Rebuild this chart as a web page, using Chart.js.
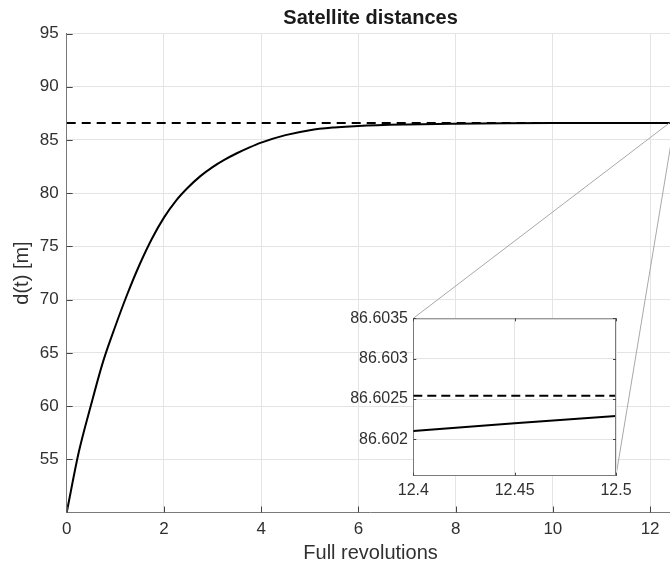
<!DOCTYPE html>
<html><head><meta charset="utf-8">
<script src="https://cdn.jsdelivr.net/npm/chart.js@4/dist/chart.umd.min.js"></script>
<style>
html,body{margin:0;padding:0;background:#fff;overflow:hidden;}
#wrap{position:relative;width:670px;height:570px;overflow:hidden;background:#fff;}
#main{position:absolute;left:0;top:0;}
#inset{position:absolute;left:330px;top:300px;}
</style></head><body>
<div id="wrap"><canvas id="main" width="690" height="570"></canvas><canvas id="inset" width="340" height="210"></canvas></div>
<script>
// ---- data ----
const chartTitle = 'Satellite distances';
const xTitle = 'Full revolutions';
const yTitle = 'd(t) [m]';
const revolutions = [0, 0.25, 0.5, 0.75, 1.0, 1.25, 1.5, 1.75, 2.0, 2.25, 2.5, 2.75, 3.0, 3.25, 3.5, 3.75, 4.0, 4.5, 5.0, 5.5, 6.0, 7.0, 8.0, 9.0, 10.0, 11.0, 12.0, 12.5];
const distances   = [50, 55.7, 60.1, 64.2, 67.5, 70.55, 73.3, 75.7, 77.7, 79.3, 80.55, 81.6, 82.45, 83.15, 83.75, 84.28, 84.75, 85.45, 85.92, 86.17, 86.32, 86.46, 86.53, 86.57, 86.59, 86.598, 86.6018, 86.6023];
const limitDistance = 86.602541;
const mainXRange = [0, 12.5];
const mainYRange = [50, 95];
const xTickValues = [0, 2, 4, 6, 8, 10, 12];
const xTickLabels = ['0', '2', '4', '6', '8', '10', '12'];
const yTickValues = [55, 60, 65, 70, 75, 80, 85, 90, 95];
const yTickLabels = ['55', '60', '65', '70', '75', '80', '85', '90', '95'];
const insetRevolutions = [12.4, 12.45, 12.5];
const insetDistances   = [86.602104, 86.6022, 86.602291];
const insetXRange = [12.4, 12.5];
const insetYRange = [86.60155, 86.6035];
const insetXTickValues = [12.4, 12.45, 12.5];
const insetXTickLabels = ['12.4', '12.45', '12.5'];
const insetYTickValues = [86.602, 86.6025, 86.603, 86.6035];
const insetYTickLabels = ['86.602', '86.6025', '86.603', '86.6035'];

// ---- styling ----
const FAMILY = "'Liberation Sans', Arial, Helvetica, sans-serif";
const TEXT = '#303030';
const GRID = '#e4e4e4';
const AXIS = '#7a7a7a';
const TICKC = '#444444';

function inwardTicks(chart, len, allSides) {
  const ctx = chart.ctx, ca = chart.chartArea, xs = chart.scales.x, ys = chart.scales.y;
  ctx.save();
  ctx.strokeStyle = TICKC; ctx.lineWidth = 1;
  ctx.beginPath();
  xs.ticks.forEach(t => {
    const px = Math.round(xs.getPixelForValue(t.value)) + 0.5;
    ctx.moveTo(px, ca.bottom); ctx.lineTo(px, ca.bottom - len);
    if (allSides) { ctx.moveTo(px, ca.top); ctx.lineTo(px, ca.top + len); }
  });
  ys.ticks.forEach(t => {
    const py = Math.round(ys.getPixelForValue(t.value)) + 0.5;
    ctx.moveTo(ca.left, py); ctx.lineTo(ca.left + len, py);
    if (allSides) { ctx.moveTo(ca.right, py); ctx.lineTo(ca.right - len, py); }
  });
  ctx.stroke();
  ctx.restore();
}

const mainDecor = {
  id: 'mainDecor',
  afterDatasetsDraw(chart) {
    const ic = window.insetChart;
    if (!ic) return;
    const ctx = chart.ctx, xs = chart.scales.x, ys = chart.scales.y;
    const cv = document.getElementById('inset');
    const ox = cv.offsetLeft, oy = cv.offsetTop, ica = ic.chartArea;
    ctx.save();
    ctx.strokeStyle = '#a8a8a8'; ctx.lineWidth = 1;
    ctx.beginPath();
    ctx.moveTo(ox + ica.left, oy + ica.top);
    ctx.lineTo(xs.getPixelForValue(insetXRange[0]), ys.getPixelForValue(insetYRange[1]));
    ctx.moveTo(ox + ica.right, oy + ica.bottom);
    ctx.lineTo(xs.getPixelForValue(insetXRange[1]), ys.getPixelForValue(insetYRange[0]));
    ctx.stroke();
    ctx.restore();
  },
  afterDraw(chart) {
    const ctx = chart.ctx, ca = chart.chartArea;
    inwardTicks(chart, 6, false);
    ctx.save();
    ctx.font = 'bold 20px ' + FAMILY;
    ctx.fillStyle = '#1a1a1a';
    ctx.textAlign = 'center'; ctx.textBaseline = 'middle';
    ctx.fillText(chartTitle, (ca.left + ca.right) / 2, 18.5);
    ctx.restore();
  }
};

const mainChart = new Chart(document.getElementById('main'), {
  type: 'line',
  data: {
    datasets: [
      { data: revolutions.map((x, i) => ({ x, y: distances[i] })), borderColor: '#000', borderWidth: 2, pointRadius: 0, cubicInterpolationMode: 'monotone', fill: false },
      { data: mainXRange.map(x => ({ x, y: limitDistance })), borderColor: '#000', borderWidth: 2, borderDash: [9, 6], pointRadius: 0, fill: false }
    ]
  },
  options: {
    responsive: false, animation: false, events: [],
    layout: { padding: { left: 0, top: 33.5, right: 15.6, bottom: 0 } },
    plugins: { legend: { display: false }, tooltip: { enabled: false }, title: { display: false } },
    scales: {
      x: {
        type: 'linear', min: mainXRange[0], max: mainXRange[1],
        afterBuildTicks: s => { s.ticks = xTickValues.map(v => ({ value: v })); },
        afterFit: s => { s.height = 57.5; },
        ticks: { callback: (v, i) => xTickLabels[i], font: { family: FAMILY, size: 17 }, color: TEXT, padding: 7, maxRotation: 0, autoSkip: false },
        grid: { color: GRID, drawTicks: false },
        border: { color: AXIS, width: 1 },
        title: { display: true, text: xTitle, font: { family: FAMILY, size: 20 }, color: TEXT, padding: { top: 0, bottom: 5 } }
      },
      y: {
        type: 'linear', min: mainYRange[0], max: mainYRange[1],
        afterBuildTicks: s => { s.ticks = yTickValues.map(v => ({ value: v })); },
        afterFit: s => { s.width = 66.7; },
        ticks: { callback: (v, i) => yTickLabels[i], font: { family: FAMILY, size: 17 }, color: TEXT, padding: 8, autoSkip: false },
        grid: { color: GRID, drawTicks: false },
        border: { color: AXIS, width: 1 },
        title: { display: true, text: yTitle, font: { family: FAMILY, size: 20 }, color: TEXT, padding: { top: 10, bottom: 0 } }
      }
    }
  },
  plugins: [mainDecor]
});

const insetDecor = {
  id: 'insetDecor',
  beforeDraw(chart) {
    const ctx = chart.ctx, ca = chart.chartArea;
    ctx.save(); ctx.fillStyle = '#fff';
    ctx.fillRect(ca.left, ca.top, ca.right - ca.left, ca.bottom - ca.top);
    ctx.restore();
  },
  afterDraw(chart) {
    const ctx = chart.ctx, ca = chart.chartArea;
    ctx.save();
    ctx.strokeStyle = AXIS; ctx.lineWidth = 1;
    ctx.beginPath();
    ctx.moveTo(ca.left, ca.top + 0.5); ctx.lineTo(ca.right, ca.top + 0.5);
    ctx.moveTo(ca.right - 0.5, ca.top); ctx.lineTo(ca.right - 0.5, ca.bottom);
    ctx.stroke();
    ctx.restore();
    inwardTicks(chart, 3, true);
  }
};

window.insetChart = new Chart(document.getElementById('inset'), {
  type: 'line',
  data: {
    datasets: [
      { data: insetRevolutions.map((x, i) => ({ x, y: insetDistances[i] })), borderColor: '#000', borderWidth: 2, pointRadius: 0, fill: false },
      { data: insetXRange.map(x => ({ x, y: limitDistance })), borderColor: '#000', borderWidth: 2, borderDash: [9, 5], pointRadius: 0, fill: false }
    ]
  },
  options: {
    responsive: false, animation: false, events: [],
    layout: { padding: { left: 0, top: 18.3, right: 54, bottom: 0 } },
    plugins: { legend: { display: false }, tooltip: { enabled: false }, title: { display: false } },
    scales: {
      x: {
        type: 'linear', min: insetXRange[0], max: insetXRange[1],
        afterBuildTicks: s => { s.ticks = insetXTickValues.map(v => ({ value: v })); },
        afterFit: s => { s.height = 34.3; },
        ticks: { callback: (v, i) => insetXTickLabels[i], font: { family: FAMILY, size: 16 }, color: TEXT, padding: 5.7, maxRotation: 0, autoSkip: false },
        grid: { color: GRID, drawTicks: false },
        border: { color: AXIS, width: 1 }
      },
      y: {
        type: 'linear', min: insetYRange[0], max: insetYRange[1],
        afterBuildTicks: s => { s.ticks = insetYTickValues.map(v => ({ value: v })); },
        afterFit: s => { s.width = 83.3; },
        ticks: { callback: (v, i) => insetYTickLabels[i], font: { family: FAMILY, size: 16 }, color: TEXT, padding: 5.3, autoSkip: false },
        grid: { color: GRID, drawTicks: false },
        border: { color: AXIS, width: 1 }
      }
    }
  },
  plugins: [insetDecor]
});

mainChart.draw();
</script>
</body></html>
